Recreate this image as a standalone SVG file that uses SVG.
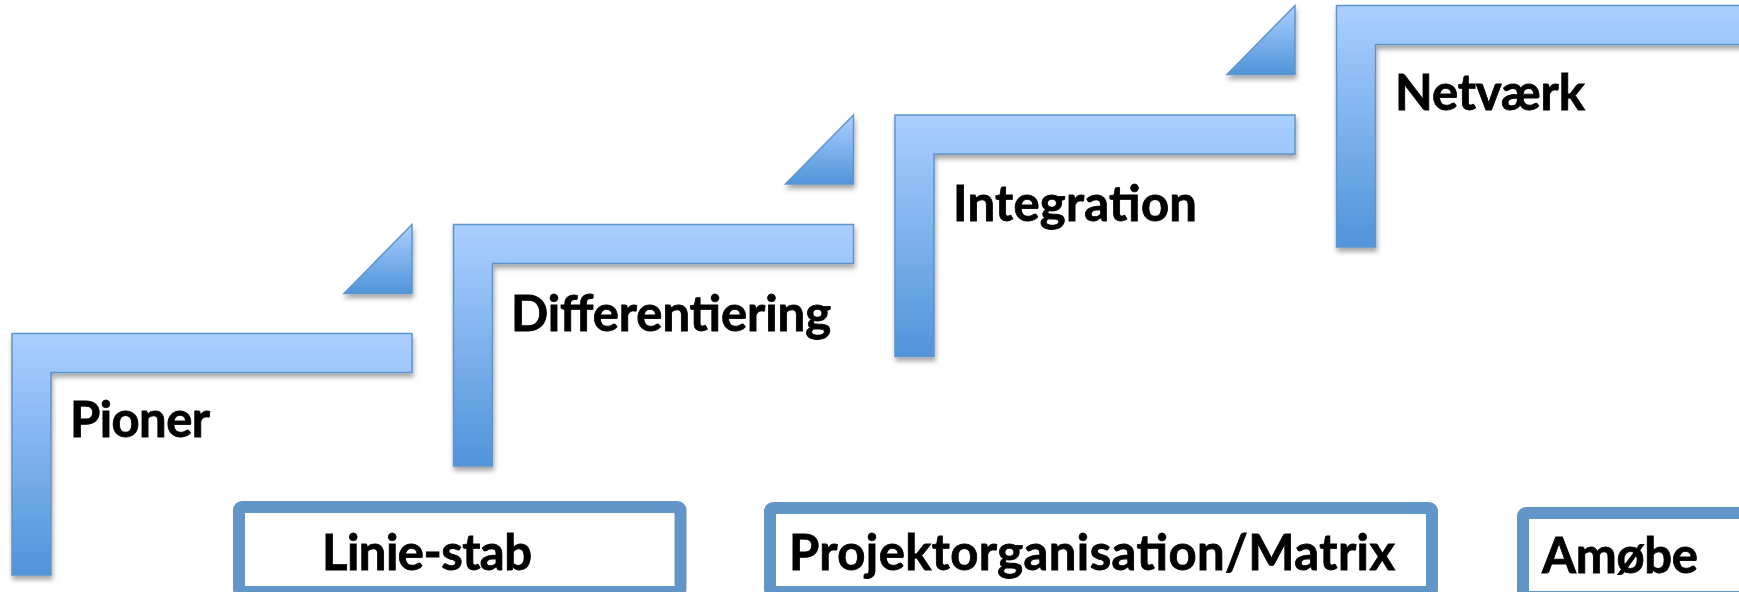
<svg xmlns="http://www.w3.org/2000/svg" width="1739" height="592" viewBox="0 0 1739 592">
  <style>
    .step { fill: url(#stepGrad); stroke: #5E95CC; stroke-width: 1.5; filter: url(#shadow); }
    .tri { fill: url(#triGrad); stroke: #5E95CC; stroke-width: 1.5; filter: url(#shadow); }
    .box { fill: #FFFFFF; stroke: #6296C9; stroke-width: 12; }
    .lbl { font-family: Lato, "Open Sans", "Liberation Sans", sans-serif; font-weight: 700; font-size: 49px; fill: #000000; stroke: #000000; stroke-width: 0.8; }
  </style>
  <defs>
    <linearGradient id="stepGrad" x1="0" y1="0" x2="0" y2="1">
      <stop offset="0" stop-color="#ABCFFF"/>
      <stop offset="1" stop-color="#5194DA"/>
    </linearGradient>
    <linearGradient id="triGrad" x1="0" y1="0" x2="0" y2="1">
      <stop offset="0" stop-color="#ABCFFF"/>
      <stop offset="1" stop-color="#5194DA"/>
    </linearGradient>
    <filter id="shadow" x="-10%" y="-10%" width="130%" height="130%">
      <feDropShadow dx="1" dy="4" stdDeviation="2.5" flood-color="#000000" flood-opacity="0.35"/>
    </filter>
  </defs>
  <rect x="0" y="0" width="1739" height="592" fill="#FFFFFF"/>

  <g id="connectors">
    <path class="tri" d="M412 224.5 V293.5 H344 Z"/>
    <path class="tri" d="M853.5 115 V184 H785.5 Z"/>
    <path class="tri" d="M1295 5.5 V74.5 H1227 Z"/>
  </g>

  <g id="pioner">
    <path class="step" d="M12 333.5 H412 V372.5 H51 V575 H12 Z"/>
    <text class="lbl" x="70" y="437" textLength="140" lengthAdjust="spacing">Pioner</text>
  </g>
  <g id="differentiering">
    <path class="step" d="M453.5 224.5 H853.5 V263.5 H492.5 V466 H453.5 Z"/>
    <text class="lbl" x="511" y="331" textLength="320" lengthAdjust="spacing">Differentiering</text>
  </g>
  <g id="integration">
    <path class="step" d="M895 115 H1295 V154 H934 V356.5 H895 Z"/>
    <text class="lbl" x="953" y="221" textLength="244" lengthAdjust="spacing">Integration</text>
  </g>
  <g id="netvaerk">
    <path class="step" d="M1336.5 5.5 H1745 V44.5 H1375.5 V247 H1336.5 Z"/>
    <text class="lbl" x="1395" y="110" textLength="190" lengthAdjust="spacing">Netværk</text>
  </g>

  <g id="linie-stab">
    <rect class="box" x="239" y="507" width="441.5" height="85" rx="3"/>
    <text class="lbl" x="322" y="570" textLength="210" lengthAdjust="spacing">Linie-stab</text>
  </g>
  <g id="projektorganisation">
    <rect class="box" x="770" y="508" width="662" height="84" rx="3"/>
    <text class="lbl" x="789" y="570" textLength="606" lengthAdjust="spacing">Projektorganisation/Matrix</text>
  </g>
  <g id="amoebe">
    <rect class="box" x="1523" y="513" width="300" height="84" rx="3"/>
    <text class="lbl" x="1542" y="573" textLength="156" lengthAdjust="spacing">Amøbe</text>
  </g>
</svg>
